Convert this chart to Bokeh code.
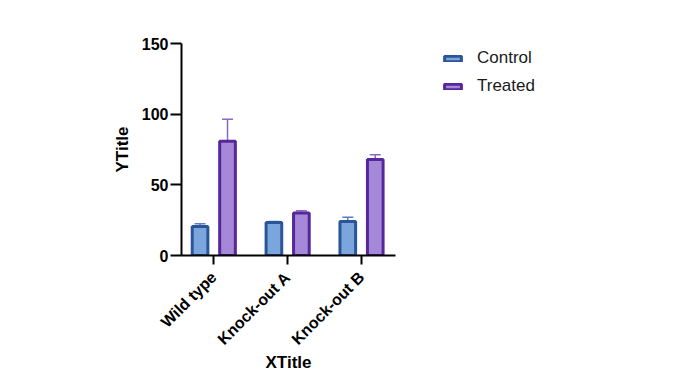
import math
from bokeh.plotting import figure
from bokeh.models import (ColumnDataSource, Whisker, TeeHead, Range1d, FixedTicker,
                          Legend, LegendItem)
from bokeh.embed import file_html
from bokeh.resources import INLINE

categories = ["Wild type", "Knock-out A", "Knock-out B"]
control_mean = [20.5, 23.4, 24.0]
control_sd = [1.9, 0.6, 3.1]
treated_mean = [80.8, 30.0, 68.0]
treated_sd = [15.6, 1.6, 3.2]
y_ticks = [0, 50, 100, 150]
series_names = ["Control", "Treated"]

FONT = "Liberation Sans"
C_FILL, C_LINE, C_ERR = "#7BA5DD", "#2A5699", "#5A7FC2"
T_FILL, T_LINE, T_ERR = "#A688D8", "#55279A", "#8A68C8"

idx = list(range(len(categories)))
off = 0.186
ctrl = ColumnDataSource(dict(
    x=[i - off for i in idx], top=control_mean,
    upper=[m + s for m, s in zip(control_mean, control_sd)],
    lower=[m - s for m, s in zip(control_mean, control_sd)]))
trt = ColumnDataSource(dict(
    x=[i + off for i in idx], top=treated_mean,
    upper=[m + s for m, s in zip(treated_mean, treated_sd)],
    lower=[m - s for m, s in zip(treated_mean, treated_sd)]))

p = figure(frame_width=214, frame_height=212, output_backend="svg", toolbar_location=None,
           x_range=Range1d(-0.437, 2.46), y_range=Range1d(0, 150),
           min_border_left=181, min_border_right=269, min_border_top=43,
           min_border_bottom=112)
p.outline_line_color = None
p.grid.visible = False
p.background_fill_color = "white"

r1 = p.vbar(x="x", top="top", bottom=0, width=0.212, source=ctrl,
            fill_color=C_FILL, line_color=C_LINE, line_width=3)
r2 = p.vbar(x="x", top="top", bottom=0, width=0.212, source=trt,
            fill_color=T_FILL, line_color=T_LINE, line_width=3)

for src, col in ((ctrl, C_ERR), (trt, T_ERR)):
    w = Whisker(base="x", upper="upper", lower="lower", source=src,
                line_color=col, line_width=1.5,
                upper_head=TeeHead(size=11, line_color=col, line_width=1.5),
                lower_head=TeeHead(size=11, line_color=col, line_width=1.5))
    p.add_layout(w)

# axes
xa = p.xaxis[0]
xa.ticker = FixedTicker(ticks=idx)
xa.major_label_overrides = {i: c for i, c in zip(idx, categories)}
xa.major_label_orientation = math.pi / 4
xa.minor_tick_line_color = None
xa.major_tick_in = 0
xa.major_tick_out = 9
xa.major_label_standoff = 10
xa.axis_label = "XTitle"
xa.axis_label_standoff = -4

ya = p.yaxis[0]
ya.ticker = FixedTicker(ticks=y_ticks)
ya.minor_tick_line_color = None
ya.major_tick_in = 0
ya.major_tick_out = 11
ya.major_label_standoff = 2
ya.axis_label = "YTitle"
ya.axis_label_standoff = 7

for ax in (xa, ya):
    ax.axis_line_width = 2
    ax.major_tick_line_width = 2
    ax.axis_line_color = "black"
    ax.major_tick_line_color = "black"
    ax.major_label_text_font = FONT
    ax.major_label_text_font_style = "bold"
    ax.major_label_text_font_size = "16px"
    ax.major_label_text_color = "black"
    ax.axis_label_text_font = FONT
    ax.axis_label_text_font_style = "bold"
    ax.axis_label_text_font_size = "17px"
    ax.axis_label_text_color = "black"

legend = Legend(items=[LegendItem(label=series_names[0], renderers=[r1]),
                       LegendItem(label=series_names[1], renderers=[r2])],
                location=(47, 159), orientation="vertical",
                border_line_color=None, background_fill_alpha=0,
                glyph_width=21, glyph_height=7, label_standoff=14,
                spacing=8, padding=0, margin=0,
                label_text_font=FONT, label_text_font_size="17px",
                label_text_color="#1a1a1a")
p.add_layout(legend, "right")

open("out.html", "w").write(file_html(p, INLINE))
